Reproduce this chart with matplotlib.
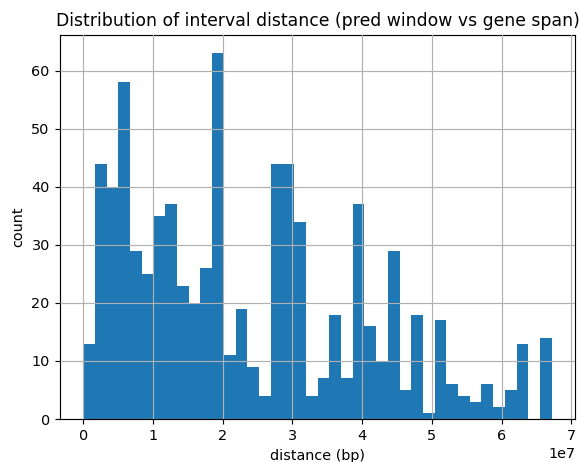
import numpy as np
import matplotlib
matplotlib.use("Agg")
import matplotlib.pyplot as plt

# Histogram counts (40 bins)
counts = [13, 44, 40, 58, 29, 25, 35, 37, 23, 20,
          26, 63, 11, 19, 9, 4, 44, 44, 34, 4,
          7, 18, 7, 37, 16, 10, 29, 5, 18, 1,
          17, 6, 4, 3, 6, 2, 5, 13, 0, 14]
min_distance = 0.0
max_distance = 6.72e7
n_bins = 40

edges = np.linspace(min_distance, max_distance, n_bins + 1)
centers = (edges[:-1] + edges[1:]) / 2

DPI = 103.8
fig = plt.figure(figsize=(581 / DPI, 462 / DPI), dpi=DPI)
ax = fig.add_axes([0.103, 0.093, 0.887, 0.831])
ax.hist(centers, bins=edges, weights=counts)
ax.grid(True)
ax.set_axisbelow(False)
ax.set_title("Distribution of interval distance (pred window vs gene span)")
ax.set_xlabel("distance (bp)")
ax.set_ylabel("count")
fig.savefig("out.png", dpi=DPI)
